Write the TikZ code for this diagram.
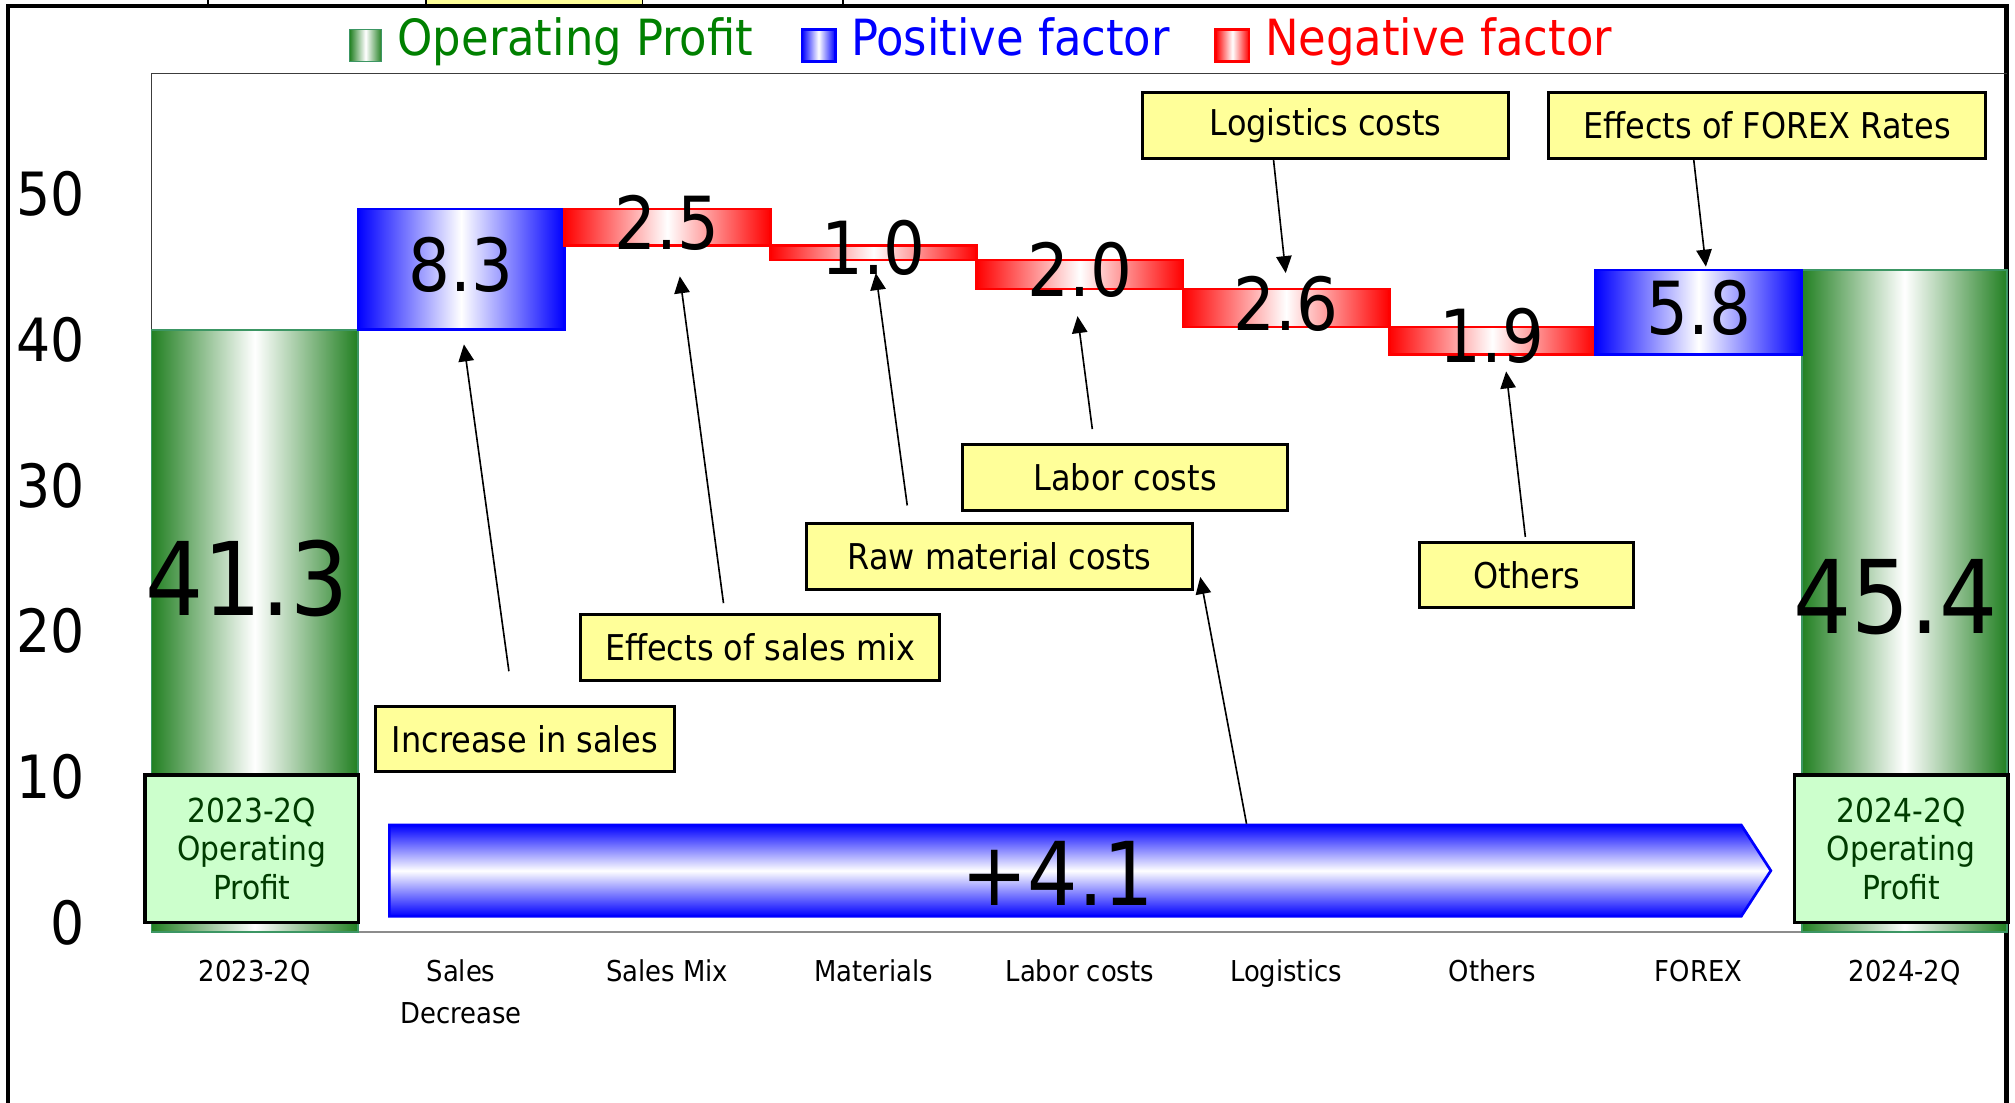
\documentclass[tikz,border=0pt]{standalone}
\usepackage{fontspec}
\setmainfont{DejaVu Sans Condensed}
\usetikzlibrary{arrows.meta}

\definecolor{opgreen}{RGB}{34,128,34}
\definecolor{opedge}{RGB}{60,150,100}
\definecolor{legendgreen}{RGB}{0,128,0}
\definecolor{boxgreen}{RGB}{204,255,204}
\definecolor{txtgreen}{RGB}{0,60,0}
\definecolor{calloutyellow}{RGB}{255,255,153}
\definecolor{axisgray}{RGB}{140,140,140}
\definecolor{framegray}{RGB}{60,60,60}

\tikzset{
  profitbar/.style={left color=opgreen, right color=opgreen, middle color=white, draw=opedge, line width=0.6pt},
  posbar/.style={left color=blue, right color=blue, middle color=white, draw=blue, line width=1pt},
  negbar/.style={left color=red, right color=red, middle color=white, draw=red, line width=1pt},
  totalarrow/.style={top color=blue, bottom color=blue, middle color=white, draw=blue, line width=1pt},
  callout/.style={draw=black, line width=1.1pt, fill=calloutyellow, inner sep=0pt, minimum height=0.85cm,
    font=\fontsize{13.1}{14}\selectfont},
  callarrow/.style={line width=0.6pt, -{Triangle[length=0.22cm, width=0.2cm]}},
  oplabel/.style={draw=black, line width=1.3pt, fill=boxgreen, text=txtgreen, align=center, inner sep=0pt,
    minimum width=2.767cm, minimum height=1.917cm, font=\fontsize{12.2}{14.2}\selectfont},
  vallabel/.style={inner sep=0pt, font=\fontsize{27}{27}\selectfont},
  biglabel/.style={inner sep=0pt, font=\fontsize{37.5}{37.5}\selectfont},
  ticklabel/.style={anchor=east, inner sep=0pt, font=\fontsize{22}{22}\selectfont},
  catlabel/.style={anchor=north, align=center, inner sep=0pt, font=\fontsize{10.6}{15.2}\selectfont},
  legendtext/.style={anchor=base west, inner sep=0pt, font=\fontsize{18.4}{19}\selectfont},
}

\begin{document}
\begin{tikzpicture}[x=0.016667cm, y=-0.016667cm]
\useasboundingbox (0,0) rectangle (1568,858);
\xdef\colw{160.5}
\xdef\vu{11.34}
% page frame and the strip above it
\fill[calloutyellow] (331.5,0) rectangle (500,3);
\draw[line width=0.6pt] (162,0) -- (162,4) (331.5,0) -- (331.5,4) (500,0) -- (500,4) (656,0) -- (656,4);
\draw[line width=1.6pt] (6,858) -- (6,4.5) -- (1561.5,4.5) -- (1561.5,858);

% legend
\draw[profitbar] (272,23) rectangle (297,48);
\node[legendtext, text=legendgreen] (legop) at (309,42.8) {Operating Profit};
\draw[posbar] (624,23) rectangle (650,48);
\node[legendtext, text=blue] (legpos) at (662,42.8) {Positive factor};
\draw[negbar] (946,23) rectangle (972,48);
\node[legendtext, text=red] (legneg) at (984,42.8) {Negative factor};

% plot area
\draw[framegray, line width=0.5pt] (118,725) -- (118,57) -- (1562,57);
\draw[axisgray, line width=0.8pt] (118,725) -- (1562,725);
\foreach \t in {0,10,...,50}
  \node[ticklabel] (tick\t) at (66,{725-\vu*\t-7}) {\t};

% bars
\draw[profitbar] (118,725) rectangle ({118+\colw},{725-\vu*41.3});
\draw[profitbar] ({118+8*\colw},725) rectangle (1562,{725-\vu*45.4});
\foreach \i/\lo/\hi/\kind/\v in {1/41.3/49.6/posbar/8.3, 2/47.1/49.6/negbar/2.5, 3/46.1/47.1/negbar/1.0,
    4/44.1/46.1/negbar/2.0, 5/41.5/44.1/negbar/2.6, 6/39.6/41.5/negbar/1.9, 7/39.6/45.4/posbar/5.8}{
  \draw[\kind] ({118+\colw*\i},{725-\vu*\lo}) rectangle ({118+\colw*(\i+1)},{725-\vu*\hi});
  \node[vallabel] (val\i) at ({118+\colw*(\i+0.5)},{725-\vu*(\lo+\hi)/2-3.5}) {\v};
}
\node[biglabel] (prevval) at (192.5,450) {41.3};
\node[biglabel] (nowval) at (1475,465) {45.4};

% categories
\foreach \cat [count=\c from 0] in {2023-2Q, Sales\\Decrease, Sales Mix, Materials, Labor costs,
    Logistics, Others, FOREX, 2024-2Q}
  \node[catlabel] (cat\c) at ({118+\colw*(\c+0.5)},746.6) {\cat};

% profit boxes
\node[oplabel] (opprev) at (196,660.5) {2023-2Q\\Operating\\Profit};
\node[oplabel] (opnow) at (1479.5,660.5) {2024-2Q\\Operating\\Profit};

% total change
\draw[totalarrow] (303,642) -- (1355,642) -- (1378,677.5) -- (1355,713) -- (303,713) -- cycle;
\node[inner sep=0pt, font=\fontsize{32.5}{32.5}\selectfont] (total) at (823,680) {+4.1};
\coordinate (tottop) at (970,641);

% callouts
\node[callout, minimum width=4.75cm] (logist) at (1031.5,97.5) {Logistics costs};
\node[callout, minimum width=5.667cm] (forex) at (1375,97.5) {Effects of FOREX Rates};
\node[callout, minimum width=4.217cm] (labor) at (875.5,371.5) {Labor costs};
\node[callout, minimum width=5cm] (rawmat) at (778,433) {Raw material costs};
\node[callout, minimum width=2.767cm] (others) at (1188,447.5) {Others};
\node[callout, minimum width=4.65cm] (salesmix) at (591.5,504) {Effects of sales mix};
\node[callout, minimum width=3.883cm] (incsales) at (408.5,575) {Increase in sales};

\coordinate (tipinc) at (361,268);
\coordinate (tipmix) at (529,215);
\coordinate (tipraw) at (681.5,212.5);
\coordinate (tiplab) at (838.5,246);
\coordinate (tiplog) at (1000.5,212.5);
\coordinate (tipoth) at (1172,289);
\coordinate (tipfx) at (1327.5,207.5);
\coordinate (tiptot) at (934,449);

\draw[callarrow] ([shift={(-0.208cm,0.433cm)}]incsales.north) -- (tipinc);
\draw[callarrow] ([shift={(-0.475cm,0.133cm)}]salesmix.north) -- (tipmix);
\draw[callarrow] ([shift={(-1.2cm,0.217cm)}]rawmat.north) -- (tipraw);
\draw[callarrow] ([shift={(-0.425cm,0.183cm)}]labor.north) -- (tiplab);
\draw[callarrow] ([shift={(-0.017cm,0.05cm)}]others.north) -- (tipoth);
\draw[callarrow] ([xshift=-0.675cm]logist.south) -- (tiplog);
\draw[callarrow] ([xshift=-0.95cm]forex.south) -- (tipfx);
\draw[callarrow] (tottop) -- (tiptot);
\end{tikzpicture}
\end{document}
